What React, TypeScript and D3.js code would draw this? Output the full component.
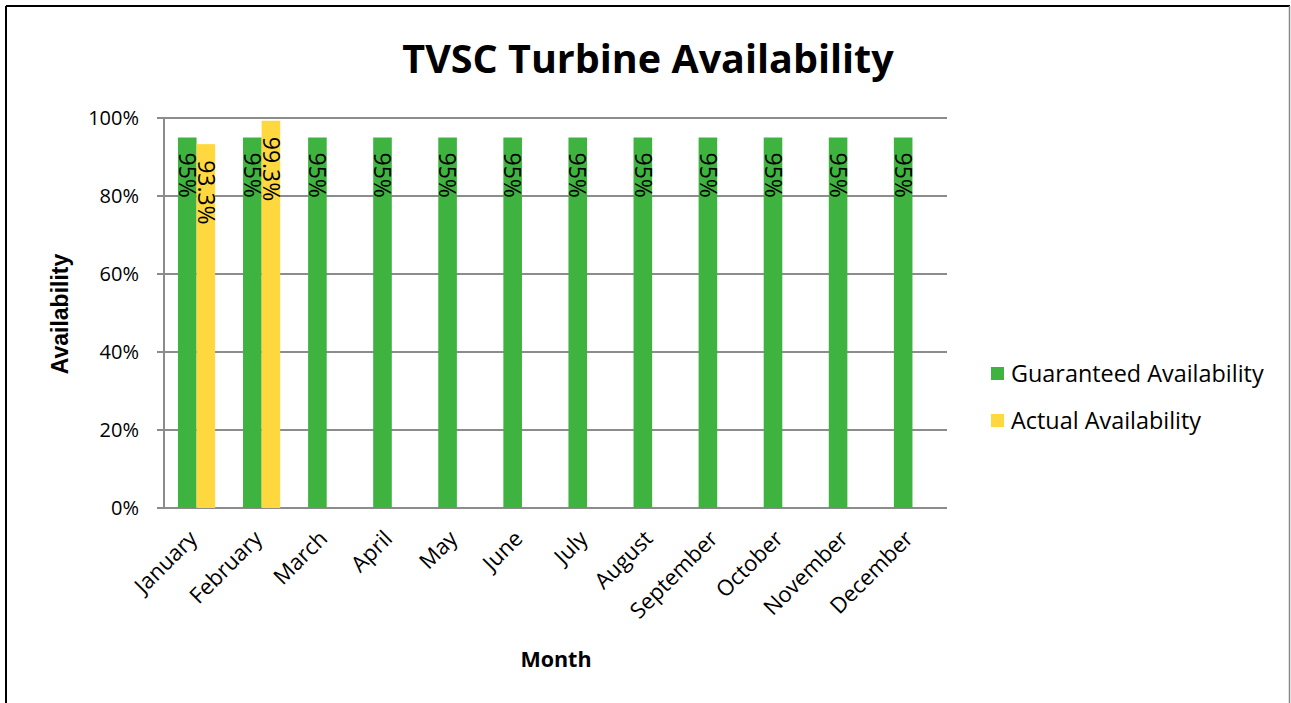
import React, { useEffect, useRef } from "react";
import * as d3 from "d3";

const months = ["January", "February", "March", "April", "May", "June", "July", "August", "September", "October", "November", "December"];
const guaranteed = [95, 95, 95, 95, 95, 95, 95, 95, 95, 95, 95, 95];
const actual: (number | null)[] = [93.3, 99.3, null, null, null, null, null, null, null, null, null, null];
const actualLabels = ["93.3%", "99.3%"];
const yTicks = [0, 20, 40, 60, 80, 100];
const seriesNames = ["Guaranteed Availability", "Actual Availability"];
const seriesColors = ["#3FB33F", "#FFD83F"];

const FONT = "'Open Sans', Lato, sans-serif";

const App = () => {
  const svgRef = useRef<SVGSVGElement>(null);

  useEffect(() => {
    const width = 1291;
    const height = 703;
    const svg = d3.select(svgRef.current).attr("width", width).attr("height", height);
    svg.selectAll("*").remove();

    // frame
    svg.append("rect").attr("width", width).attr("height", height).attr("fill", "#fff");
    svg.append("line").attr("x1", 6).attr("y1", 6).attr("x2", 1290).attr("y2", 6).attr("stroke", "#000").attr("stroke-width", 2);
    svg.append("line").attr("x1", 6).attr("y1", 6).attr("x2", 6).attr("y2", height).attr("stroke", "#000").attr("stroke-width", 2);
    svg.append("line").attr("x1", 1289.5).attr("y1", 6).attr("x2", 1289.5).attr("y2", height).attr("stroke", "#888").attr("stroke-width", 1.5);

    const left = 164;
    const right = 945;
    const top = 118;
    const bottom = 508;

    const x = d3.scaleBand().domain(months).range([left, right]).paddingInner(0).paddingOuter(0);
    const inner = d3.scaleBand().domain(["g", "a"]).range([0, x.bandwidth()]).paddingInner(0).paddingOuter(0.75);
    const y = d3.scaleLinear().domain([0, 100]).range([bottom, top]);

    // gridlines
    svg
      .append("g")
      .selectAll("line")
      .data(yTicks)
      .join("line")
      .attr("x1", left - 7)
      .attr("x2", right + 2)
      .attr("y1", (d) => y(d))
      .attr("y2", (d) => y(d))
      .attr("stroke", "#8c8c8c")
      .attr("stroke-width", 2);

    svg
      .append("g")
      .selectAll("text")
      .data(yTicks)
      .join("text")
      .attr("x", left - 25)
      .attr("y", (d) => y(d))
      .attr("dy", "0.36em")
      .attr("text-anchor", "end")
      .style("font-family", FONT)
      .style("font-size", "20px")
      .text((d) => `${d}%`);

    // bars
    svg
      .append("g")
      .selectAll("rect")
      .data(guaranteed)
      .join("rect")
      .attr("x", (_, i) => x(months[i])! + inner("g")!)
      .attr("y", (d) => y(d))
      .attr("width", inner.bandwidth())
      .attr("height", (d) => bottom - y(d))
      .attr("fill", seriesColors[0]);

    svg
      .append("g")
      .selectAll("rect")
      .data(actual)
      .join("rect")
      .filter((d) => d !== null)
      .attr("x", (_, i) => x(months[i])! + inner("a")!)
      .attr("y", (d) => y(d as number))
      .attr("width", inner.bandwidth())
      .attr("height", (d) => bottom - y(d as number))
      .attr("fill", seriesColors[1]);

    // y axis line
    svg.append("line").attr("x1", left).attr("x2", left).attr("y1", top).attr("y2", bottom).attr("stroke", "#8c8c8c").attr("stroke-width", 2);

    // data labels
    guaranteed.forEach((v, i) => {
      const cx = x(months[i])! + inner("g")! + inner.bandwidth() / 2;
      const ty = y(v) + 15;
      svg
        .append("text")
        .attr("transform", `translate(${cx},${ty}) rotate(90)`)
        .attr("dy", "0.36em")
        .style("font-family", FONT)
        .style("font-size", "23px")
        .text(`${v}%`);
    });
    actual.forEach((v, i) => {
      if (v === null) return;
      const cx = x(months[i])! + inner("a")! + inner.bandwidth() / 2;
      const ty = y(v) + 16;
      svg
        .append("text")
        .attr("transform", `translate(${cx},${ty}) rotate(90)`)
        .attr("dy", "0.36em")
        .style("font-family", FONT)
        .style("font-size", "23px")
        .text(actualLabels[i]);
    });

    // x labels
    svg
      .append("g")
      .selectAll("text")
      .data(months)
      .join("text")
      .attr("transform", (d) => `translate(${x(d)! + x.bandwidth() / 2 + 2},${bottom + 32}) rotate(-45)`)
      .attr("text-anchor", "end")
      .style("font-family", FONT)
      .style("font-size", "22px")
      .text((d) => d);

    // titles
    svg
      .append("text")
      .attr("x", 648)
      .attr("y", 73)
      .attr("text-anchor", "middle")
      .style("font-family", FONT)
      .style("font-weight", "bold")
      .style("font-size", "39.5px")
      .text("TVSC Turbine Availability");

    svg
      .append("text")
      .attr("x", 556)
      .attr("y", 667)
      .attr("text-anchor", "middle")
      .style("font-family", FONT)
      .style("font-weight", "bold")
      .style("font-size", "21.5px")
      .text("Month");

    svg
      .append("text")
      .attr("transform", `translate(68,${(top + bottom) / 2 + 1}) rotate(-90)`)
      .attr("text-anchor", "middle")
      .style("font-family", "'Liberation Sans', Arial, sans-serif")
      .style("font-weight", "bold")
      .style("font-size", "23px")
      .text("Availability");

    // legend
    seriesNames.forEach((name, i) => {
      const ly = 374 + i * 47;
      svg.append("rect").attr("x", 991).attr("y", ly - 7).attr("width", 13).attr("height", 13).attr("fill", seriesColors[i]);
      svg
        .append("text")
        .attr("x", 1011)
        .attr("y", ly)
        .attr("dy", "0.36em")
        .style("font-family", FONT)
        .style("font-size", "23.4px")
        .text(name);
    });
  }, []);

  return <svg ref={svgRef} style={{ position: "absolute", left: 0, top: 0 }}></svg>;
};

export default App;
